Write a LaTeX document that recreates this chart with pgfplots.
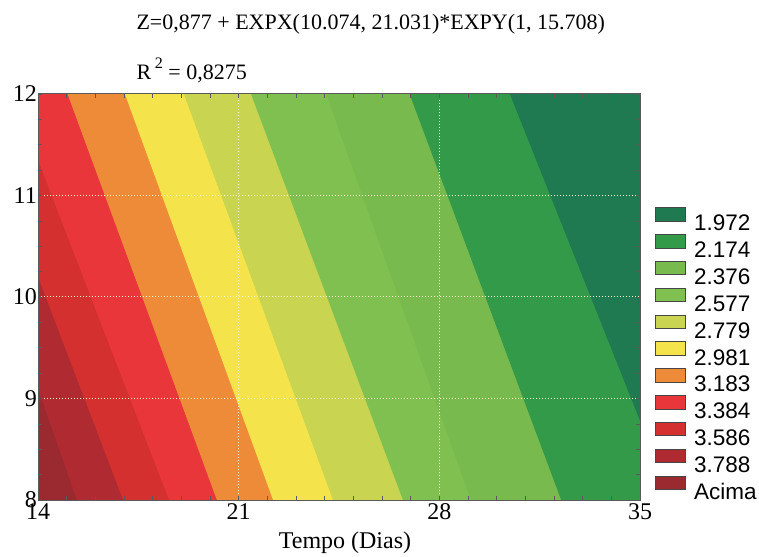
\documentclass[border=0pt]{standalone}
\usepackage{fontspec}
\setmainfont{Liberation Serif}
\setsansfont{Liberation Sans}
\usepackage{pgfplots}
\pgfplotsset{compat=1.18}

% band colours, legend order
\definecolor{cA}{HTML}{1F7A52} % 1.972
\definecolor{cB}{HTML}{339A49} % 2.174
\definecolor{cC}{HTML}{79BA4E} % 2.376
\definecolor{cD}{HTML}{80C051} % 2.577
\definecolor{cE}{HTML}{C9D550} % 2.779
\definecolor{cF}{HTML}{F4E34A} % 2.981
\definecolor{cG}{HTML}{EE8B38} % 3.183
\definecolor{cH}{HTML}{E8363A} % 3.384
\definecolor{cI}{HTML}{D3302F} % 3.586
\definecolor{cJ}{HTML}{B02B31} % 3.788
\definecolor{cK}{HTML}{9B2A30} % Acima
\definecolor{frame}{HTML}{5A5A5A}

\begin{document}
\begin{tikzpicture}
\useasboundingbox (-38pt,-56pt) rectangle (721pt,500pt);
\begin{axis}[
  scale only axis, width=602pt, height=406pt,
  xmin=14, xmax=35, ymin=8, ymax=12,
  xtick={14,21,28,35}, ytick={8,9,10,11,12},
  minor x tick num=6, minor y tick num=3,
  tick align=inside, major tick length=4pt, minor tick length=4pt,
  tick style={frame, line width=0.6pt},
  axis line style={frame, line width=1pt},
  grid=major,
  major grid style={dash pattern=on 1pt off 2pt, line width=1pt, color=white!80!yellow},
  axis on top,
  /pgf/number format/assume math mode=true,
  ticklabel style={font=\fontsize{24}{24}\selectfont},
  yticklabel style={inner xsep=1pt},
  xlabel={Tempo (Dias)},
  xlabel style={font=\fontsize{24}{24}\selectfont, at={(rel axis cs:0.5,0)}, anchor=base, yshift=-48pt, xshift=6pt},
  legend image code/.code={\draw[#1, draw=gray!55!black, line width=0.8pt] (0pt,1.5pt) rectangle (30pt,15pt);},
  legend cell align=left,
  legend style={at={(rel axis cs:1,1)}, anchor=north west, xshift=15pt, yshift=-113pt,
    draw=none, fill=none, inner sep=0pt,
    font=\sffamily\fontsize{22.5}{22.5}\selectfont,
    nodes={inner sep=0pt, text height=16.5pt, text depth=0pt},
    row sep=3.2pt,
    /tikz/every odd column/.append style={column sep=8pt}},
]
\addlegendimage{fill=cA}\addlegendentry{1.972}
\addlegendimage{fill=cB}\addlegendentry{2.174}
\addlegendimage{fill=cC}\addlegendentry{2.376}
\addlegendimage{fill=cD}\addlegendentry{2.577}
\addlegendimage{fill=cE}\addlegendentry{2.779}
\addlegendimage{fill=cF}\addlegendentry{2.981}
\addlegendimage{fill=cG}\addlegendentry{3.183}
\addlegendimage{fill=cH}\addlegendentry{3.384}
\addlegendimage{fill=cI}\addlegendentry{3.586}
\addlegendimage{fill=cJ}\addlegendentry{3.788}
\addlegendimage{fill=cK}\addlegendentry{Acima}

% layered bands: each fill covers the part right of one contour line
\addplot[fill=cK, draw=none, forget plot] coordinates {(14,8) (35,8) (35,12) (14,12)} --cycle;
\addplot[fill=cJ, draw=none, forget plot] coordinates {(15.36,8) (35,8) (35,12) (14,12) (14,9.1)} --cycle;
\addplot[fill=cI, draw=none, forget plot] coordinates {(16.97,8) (35,8) (35,12) (14,12) (14,10.2)} --cycle;
\addplot[fill=cH, draw=none, forget plot] coordinates {(18.57,8) (35,8) (35,12) (14,12) (14,11.35)} --cycle;
\addplot[fill=cG, draw=none, forget plot] coordinates {(20.24,8) (35,8) (35,12) (15.03,12)} --cycle;
\addplot[fill=cF, draw=none, forget plot] coordinates {(22.20,8) (35,8) (35,12) (17.03,12)} --cycle;
\addplot[fill=cE, draw=none, forget plot] coordinates {(24.29,8) (35,8) (35,12) (19.09,12)} --cycle;
\addplot[fill=cD, draw=none, forget plot] coordinates {(26.73,8) (35,8) (35,12) (21.43,12)} --cycle;
\addplot[fill=cC, draw=none, forget plot] coordinates {(29.10,8) (35,8) (35,12) (24.05,12)} --cycle;
\addplot[fill=cB, draw=none, forget plot] coordinates {(32.25,8) (35,8) (35,12) (26.96,12)} --cycle;
\addplot[fill=cA, draw=none, forget plot] coordinates {(35,8.78) (35,12) (30.46,12)} --cycle;
\end{axis}
\node[anchor=base west, font=\fontsize{22}{22}\selectfont] at (95pt,470pt)
  {Z=0,877 + EXPX(10.074, 21.031)*EXPY(1, 15.708)};
\node[anchor=base west, font=\fontsize{22}{22}\selectfont] at (95pt,420pt)
  {R\,\raisebox{0.5em}{\fontsize{16}{16}\selectfont 2} = 0,8275};
\end{tikzpicture}
\end{document}
